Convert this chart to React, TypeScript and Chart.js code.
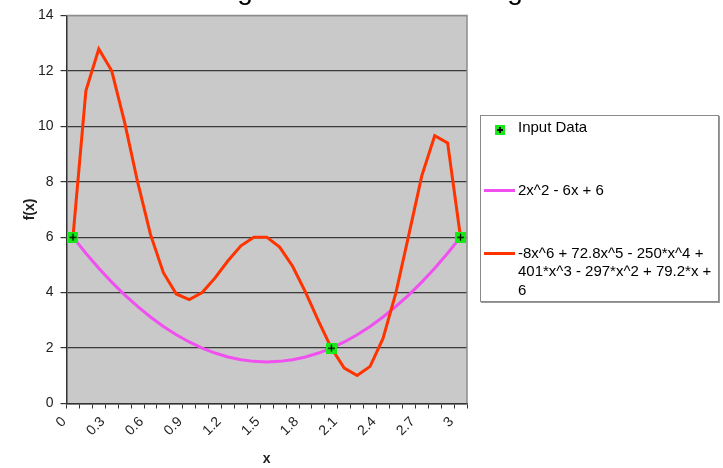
import React, { useEffect, useRef } from 'react';
import { Chart, registerables } from 'chart.js';

Chart.register(...registerables);

const FONT = '"Liberation Sans", Arial, sans-serif';

// categories x = 0, 0.1, ..., 3.0
const xCategories = [
  '0', '0.1', '0.2', '0.3', '0.4', '0.5', '0.6', '0.7', '0.8', '0.9',
  '1', '1.1', '1.2', '1.3', '1.4', '1.5', '1.6', '1.7', '1.8', '1.9',
  '2', '2.1', '2.2', '2.3', '2.4', '2.5', '2.6', '2.7', '2.8', '2.9', '3',
];
const xTickLabels = ['0', '', '', '0.3', '', '', '0.6', '', '', '0.9', '', '', '1.2', '', '', '1.5', '', '', '1.8', '', '', '2.1', '', '', '2.4', '', '', '2.7', '', '', '3'];

const inputData: (number | null)[] = [
  6, null, null, null, null, null, null, null, null, null,
  null, null, null, null, null, null, null, null, null, null,
  2, null, null, null, null, null, null, null, null, null, 6,
];
const quadValues = [
  6.0, 5.42, 4.88, 4.38, 3.92, 3.5, 3.12, 2.78, 2.48, 2.22,
  2.0, 1.82, 1.68, 1.58, 1.52, 1.5, 1.52, 1.58, 1.68, 1.82,
  2.0, 2.22, 2.48, 2.78, 3.12, 3.5, 3.92, 4.38, 4.88, 5.42, 6.0,
];
const polyValues = [
  6.0, 11.28, 12.79, 12.0, 10.14, 8.0, 6.1, 4.72, 3.95, 3.75,
  4.0, 4.53, 5.15, 5.69, 6.0, 6.0, 5.64, 4.95, 4.02, 2.98,
  2.0, 1.28, 1.01, 1.34, 2.35, 4.0, 6.09, 8.21, 9.66, 9.4, 6.0,
];
const yMin = 0;
const yMax = 14;
const yStep = 2;

const legendInput = 'Input Data';
const legendQuad = '2x^2 - 6x + 6';
const legendPolyLines = ['-8x^6 + 72.8x^5 - 250*x^4 +', '401*x^3 - 297*x^2 + 79.2*x +', '6'];

const RED = '#ff3300';
const MAGENTA = '#f050f0';
const GREEN = '#18e818';

function makeMarker(): HTMLCanvasElement {
  const c = document.createElement('canvas');
  c.width = 11;
  c.height = 11;
  const g = c.getContext('2d')!;
  g.fillStyle = GREEN;
  g.fillRect(0, 0, 11, 11);
  g.fillStyle = '#000';
  g.fillRect(2, 5, 7, 1.3);
  g.fillRect(4.85, 2, 1.3, 7);
  return c;
}

const bgPlugin = {
  id: 'plotBg',
  beforeDraw(chart: any) {
    const { ctx, chartArea: a } = chart;
    ctx.save();
    ctx.fillStyle = '#c9c9c9';
    ctx.fillRect(a.left, a.top, a.right - a.left, a.bottom - a.top);
    ctx.restore();
  },
  beforeDatasetsDraw(chart: any) {
    const { ctx, chartArea: a } = chart;
    ctx.save();
    ctx.strokeStyle = '#8c8c8c';
    ctx.lineWidth = 1.5;
    ctx.beginPath();
    ctx.moveTo(a.left, a.top);
    ctx.lineTo(a.right, a.top);
    ctx.lineTo(a.right, a.bottom);
    ctx.stroke();
    ctx.restore();
  },
  afterDraw(chart: any) {
    const { ctx } = chart;
    ctx.save();
    ctx.fillStyle = '#000';
    ctx.font = `28px ${FONT}`;
    ctx.textAlign = 'center';
    ctx.textBaseline = 'alphabetic';
    ctx.fillText('g', 245, -1);
    ctx.fillText('g', 515, -1);
    ctx.restore();
  },
};

export default function App() {
  const ref = useRef<HTMLCanvasElement | null>(null);

  useEffect(() => {
    if (!ref.current) return;
    const marker = makeMarker();
    const chart = new Chart(ref.current, {
      type: 'line',
      data: {
        labels: xCategories,
        datasets: [
          {
            label: legendInput,
            data: inputData,
            showLine: false,
            pointStyle: marker as any,
            pointRadius: 5,
            order: 0,
          },
          {
            label: legendPolyLines.join(' '),
            data: polyValues,
            borderColor: RED,
            borderWidth: 3,
            pointRadius: 0,
            tension: 0,
            order: 1,
          },
          {
            label: legendQuad,
            data: quadValues,
            borderColor: MAGENTA,
            borderWidth: 3,
            pointRadius: 0,
            tension: 0,
            order: 2,
          },
        ],
      },
      options: {
        responsive: false,
        animation: false,
        layout: { padding: { left: 0, top: 15, right: 256, bottom: 0 } },
        plugins: {
          legend: { display: false },
          tooltip: { enabled: false },
          title: { display: false },
        },
        scales: {
          x: {
            type: 'category',
            offset: true,
            afterFit(scale: any) {
              scale.height = 64.5;
            },
            grid: {
              display: true,
              drawOnChartArea: false,
              drawTicks: true,
              tickLength: 5,
              offset: true,
              tickColor: '#333',
            },
            border: { display: true, color: '#333', width: 1.5 },
            ticks: {
              autoSkip: false,
              maxRotation: 45,
              minRotation: 45,
              labelOffset: -9,
              padding: 5,
              color: '#222',
              font: { family: FONT, size: 14 },
              callback: (_v: any, i: number) => xTickLabels[i],
            },
            title: {
              display: true,
              text: 'x',
              color: '#222',
              font: { family: FONT, size: 14, weight: 'bold' },
              padding: { top: 0, bottom: 0 },
            },
          },
          y: {
            type: 'linear',
            min: yMin,
            max: yMax,
            afterFit(scale: any) {
              scale.width = 66.5;
            },
            grid: {
              color: (c: any) => (c.tick && c.tick.value === yMax ? '#8c8c8c' : '#3a3a3a'),
              lineWidth: 1.2,
              drawTicks: true,
              tickLength: 6,
              tickColor: '#333',
            },
            border: { display: true, color: '#333', width: 1.5 },
            ticks: {
              stepSize: yStep,
              padding: 7,
              color: '#222',
              font: { family: FONT, size: 14 },
            },
            title: {
              display: true,
              text: 'f(x)',
              color: '#222',
              font: { family: FONT, size: 14, weight: 'bold' },
              padding: { top: 22, bottom: 0 },
            },
          },
        },
      },
      plugins: [bgPlugin],
    });
    return () => chart.destroy();
  }, []);

  const textStyle: React.CSSProperties = {
    position: 'absolute',
    left: 518,
    fontFamily: FONT,
    fontSize: 15,
    lineHeight: '18.3px',
    color: '#000',
    whiteSpace: 'nowrap',
  };

  return (
    <div style={{ position: 'fixed', left: 0, top: 0, width: 723, height: 468, background: '#fff' }}>
      <canvas ref={ref} width={723} height={468} style={{ position: 'absolute', left: 0, top: 0 }} />
      <div
        style={{
          position: 'absolute',
          left: 480,
          top: 115,
          width: 239,
          height: 187,
          boxSizing: 'border-box',
          border: '1px solid #8a8a8a',
          boxShadow: '1px 1px 0 #9a9a9a',
          background: '#fff',
        }}
      />
      <div
        style={{
          position: 'absolute',
          left: 495,
          top: 125,
          width: 10,
          height: 10,
          background: GREEN,
        }}
      >
        <div style={{ position: 'absolute', left: 2, top: 4, width: 6, height: 1.5, background: '#000' }} />
        <div style={{ position: 'absolute', left: 4.3, top: 2, width: 1.5, height: 6, background: '#000' }} />
      </div>
      <div style={{ ...textStyle, top: 118 }}>{legendInput}</div>
      <div style={{ position: 'absolute', left: 484, top: 189, width: 31, height: 3, background: MAGENTA }} />
      <div style={{ ...textStyle, top: 181 }}>{legendQuad}</div>
      <div style={{ position: 'absolute', left: 484, top: 252, width: 31, height: 3, background: RED }} />
      <div style={{ ...textStyle, top: 244 }}>
        {legendPolyLines.map((l, i) => (
          <div key={i}>{l}</div>
        ))}
      </div>
    </div>
  );
}
